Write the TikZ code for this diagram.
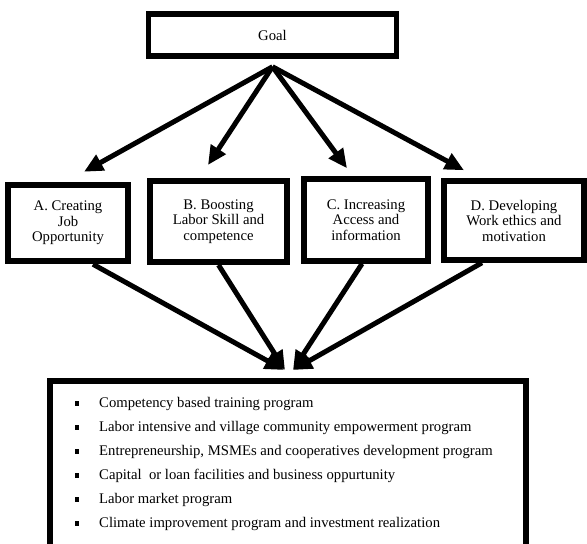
\documentclass[tikz,border=0pt]{standalone}
\usepackage{fontspec}
\setmainfont{Liberation Serif}
\usetikzlibrary{arrows.meta}
\newcommand{\listmark}{\rule[1.3pt]{4.5pt}{4.5pt}\hspace{20pt}}
\begin{document}
\begin{tikzpicture}[x=1pt, y=-1pt, font=\fontsize{14.7}{15.5}\selectfont,
	box/.style={draw, line width=5.5pt, rectangle, align=center, inner sep=2pt},
	arr/.style={line width=5pt, -{Triangle[length=19pt,width=17pt]}},
	listitem/.style={anchor=base west, inner sep=0pt}]
	\useasboundingbox (0,0) rectangle (587,544);
	\node[box, minimum width=248pt, minimum height=42pt] (goal) at (272.5,35) {Goal};
	\node[box, line width=6.5pt, minimum width=120pt, minimum height=76pt] (a) at (68,223) {A. Creating\\Job\\Opportunity};
	\node[box, line width=6pt, minimum width=137pt, minimum height=81pt] (b) at (218.5,221.5) {B. Boosting\\Labor Skill and\\competence};
	\node[box, minimum width=124pt, minimum height=82pt] (c) at (366,220) {C. Increasing\\Access and\\information};
	\node[box, minimum width=140pt, minimum height=79pt] (d) at (514,220.5) {D. Developing\\Work ethics and\\motivation};
	\node[box, line width=6pt, minimum width=476pt, minimum height=179pt] (list) at (288,470.5) {};
	\node[listitem] (l1) at (74.5,407) {\listmark Competency based training program};
	\node[listitem] (l2) at (74.5,431) {\listmark Labor intensive and village community empowerment program};
	\node[listitem] (l3) at (74.5,455) {\listmark Entrepreneurship, MSMEs and cooperatives development program};
	\node[listitem] (l4) at (74.5,479) {\listmark Capital\ \ or loan facilities and business oppurtunity};
	\node[listitem] (l5) at (74.5,503) {\listmark Labor market program};
	\node[listitem] (l6) at (74.5,527) {\listmark Climate improvement program and investment realization};
	\draw[arr] ([yshift=-8pt]goal.south) -- ([xshift=16pt,yshift=10pt]a.north);
	\draw[arr] ([yshift=-8pt]goal.south) -- ([xshift=-10.5pt,yshift=13pt]b.north);
	\draw[arr] ([yshift=-8pt]goal.south) -- ([xshift=-19pt,yshift=8pt]c.north);
	\draw[arr] ([yshift=-8pt]goal.south) -- ([xshift=-50pt,yshift=8pt]d.north);
	\draw[arr] ([xshift=25pt]a.south) -- ([xshift=-4pt,yshift=8pt]list.north);
	\draw[arr] (b.south) -- ([xshift=-3pt,yshift=8pt]list.north);
	\draw[arr] ([xshift=-4pt]c.south) -- ([xshift=5pt,yshift=8pt]list.north);
	\draw[arr] ([xshift=-32pt]d.south) -- ([xshift=5pt,yshift=8pt]list.north);
\end{tikzpicture}
\end{document}
